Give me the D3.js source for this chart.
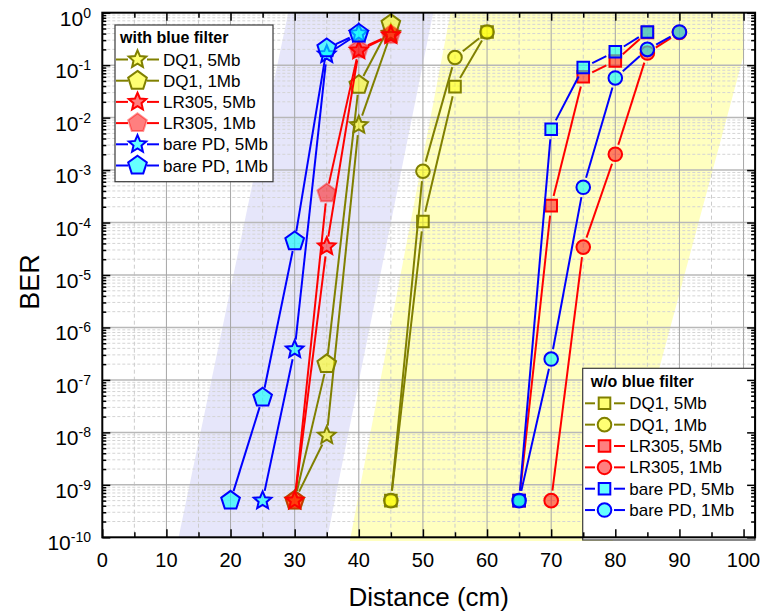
<!DOCTYPE html>
<html><head><meta charset="utf-8">
<script src="https://cdn.jsdelivr.net/npm/d3@7"></script>
<style>
body{margin:0;background:#fff}
svg{display:block}
text{font-family:"Liberation Sans",Arial,Helvetica,sans-serif;fill:#000}
</style>
</head><body>
<svg id="c" width="761" height="615"></svg>
<script>
// ---------------- DATA ----------------
const xTickValues = [0,10,20,30,40,50,60,70,80,90,100];
const yExponents = [0,-1,-2,-3,-4,-5,-6,-7,-8,-9,-10];

// with blue filter
const wfDQ1_5Mb_dist = [30,35,40,45];
const wfDQ1_5Mb_ber  = [5e-10, 8.7e-9, 7.2e-3, 0.40];
const wfDQ1_1Mb_dist = [30,35,40,45];
const wfDQ1_1Mb_ber  = [5e-10, 2.0e-7, 0.042, 0.61];
const wfLR305_5Mb_dist = [30,35,40,45];
const wfLR305_5Mb_ber  = [5e-10, 3.5e-5, 0.19, 0.37];
const wfLR305_1Mb_dist = [30,35,40,45];
const wfLR305_1Mb_ber  = [5e-10, 3.6e-4, 0.20, 0.38];
const wfBare_5Mb_dist = [25,30,35,40];
const wfBare_5Mb_ber  = [5e-10, 3.8e-7, 0.16, 0.40];
const wfBare_1Mb_dist = [20,25,30,35,40];
const wfBare_1Mb_ber  = [5e-10, 4.6e-8, 4.4e-5, 0.21, 0.40];

// without blue filter
const woDQ1_5Mb_dist = [45,50,55,60];
const woDQ1_5Mb_ber  = [5e-10, 1.05e-4, 0.039, 0.43];
const woDQ1_1Mb_dist = [45,50,55,60];
const woDQ1_1Mb_ber  = [5e-10, 9.5e-4, 0.14, 0.43];
const woLR305_5Mb_dist = [65,70,75,80,85];
const woLR305_5Mb_ber  = [5e-10, 2.1e-4, 0.06, 0.12, 0.42];
const woLR305_1Mb_dist = [70,75,80,85,90];
const woLR305_1Mb_ber  = [5e-10, 3.4e-5, 2.0e-3, 0.17, 0.42];
const woBare_5Mb_dist = [65,70,75,80,85];
const woBare_5Mb_ber  = [5e-10, 6.0e-3, 0.09, 0.18, 0.43];
const woBare_1Mb_dist = [65,70,75,80,85,90];
const woBare_1Mb_ber  = [5e-10, 2.5e-7, 4.7e-4, 0.057, 0.20, 0.43];

// shaded bands (distance, BER corners)
const blueBandDist = [11.9, 35.1, 51.6, 29.0];
const blueBandBER  = [1e-10, 1e-10, 1, 1];
const yellowBandDist = [38.6, 79.6, 101.8, 54.3];
const yellowBandBER  = [8.5e-11, 8.5e-11, 1, 1];

const legend1Title = "with blue filter";
const legend2Title = "w/o blue filter";

// ---------------- STYLES ----------------
const st = {
  dq1:  {stroke:"#808000", fill:"#ffff00", fop:0.55, sop:1},
  lr:   {stroke:"#ff0000", fill:"#ff0000", fop:0.5,  sop:1},
  lrP:  {stroke:"#ff0000", fill:"#ff0000", fop:0.5,  sop:0.4},
  bare: {stroke:"#0000ff", fill:"#00ffff", fop:0.6,  sop:1}
};

const groupWith = [
  {name:"DQ1, 5Mb", d:wfDQ1_5Mb_dist, b:wfDQ1_5Mb_ber, shape:"star", s:st.dq1},
  {name:"DQ1, 1Mb", d:wfDQ1_1Mb_dist, b:wfDQ1_1Mb_ber, shape:"pent", s:st.dq1},
  {name:"LR305, 5Mb", d:wfLR305_5Mb_dist, b:wfLR305_5Mb_ber, shape:"star", s:st.lr},
  {name:"LR305, 1Mb", d:wfLR305_1Mb_dist, b:wfLR305_1Mb_ber, shape:"pent", s:st.lrP},
  {name:"bare PD, 5Mb", d:wfBare_5Mb_dist, b:wfBare_5Mb_ber, shape:"star", s:st.bare},
  {name:"bare PD, 1Mb", d:wfBare_1Mb_dist, b:wfBare_1Mb_ber, shape:"pent", s:st.bare}
];
const groupWo = [
  {name:"DQ1, 5Mb", d:woDQ1_5Mb_dist, b:woDQ1_5Mb_ber, shape:"square", s:st.dq1},
  {name:"DQ1, 1Mb", d:woDQ1_1Mb_dist, b:woDQ1_1Mb_ber, shape:"circle", s:st.dq1},
  {name:"LR305, 5Mb", d:woLR305_5Mb_dist, b:woLR305_5Mb_ber, shape:"square", s:st.lr},
  {name:"LR305, 1Mb", d:woLR305_1Mb_dist, b:woLR305_1Mb_ber, shape:"circle", s:st.lr},
  {name:"bare PD, 5Mb", d:woBare_5Mb_dist, b:woBare_5Mb_ber, shape:"square", s:st.bare},
  {name:"bare PD, 1Mb", d:woBare_1Mb_dist, b:woBare_1Mb_ber, shape:"circle", s:st.bare}
];

// ---------------- LAYOUT ----------------
const L = 102.3, R = 755.1, T = 12.7, B = 537.3;
const x = d3.scaleLinear().domain([0, 101.8]).range([L, R]);
const y = d3.scaleLog().domain([1e-10, 1]).range([B, T]);

const svg = d3.select("#c");
svg.append("rect").attr("width",761).attr("height",615).attr("fill","#fff");

const defs = svg.append("defs");
defs.append("clipPath").attr("id","bandclip").append("rect")
  .attr("x", x(0)).attr("y", T).attr("width", x(100)-x(0)).attr("height", 545-T);

// bands
const bandG = svg.append("g").attr("clip-path","url(#bandclip)");
function band(ds, bs, color){
  const pts = ds.map((d,i)=>[x(d), y(bs[i])]);
  bandG.append("path").attr("d", d3.line()(pts)+"Z").attr("fill", color).attr("stroke","none");
}
band(blueBandDist, blueBandBER, "#e6e6fa");
band(yellowBandDist, yellowBandBER, "#ffffc0");

// grid
const gridG = svg.append("g");
const xMinor = d3.range(5, 100, 10);
const xMajorGrid = xTickValues.filter(v => v > 0);
const yMinor = [];
for (let e = -10; e < 0; e++) for (let k = 2; k <= 9; k++) yMinor.push(k * Math.pow(10, e));
const yMajorGrid = yExponents.filter(e => e < 0 && e > -10).map(e => Math.pow(10, e));

gridG.selectAll(".yminor").data(yMinor).join("line")
  .attr("x1", L).attr("x2", R).attr("y1", d=>y(d)).attr("y2", d=>y(d))
  .attr("stroke","#d4d4d4").attr("stroke-width",1).attr("stroke-dasharray","3,2");
gridG.selectAll(".xminor").data(xMinor).join("line")
  .attr("x1", d=>x(d)).attr("x2", d=>x(d)).attr("y1", T).attr("y2", B)
  .attr("stroke","#cccccc").attr("stroke-width",1).attr("stroke-dasharray","4,3");
gridG.selectAll(".ymajor").data(yMajorGrid).join("line")
  .attr("x1", L).attr("x2", R).attr("y1", d=>y(d)).attr("y2", d=>y(d))
  .attr("stroke","#b8b8b8").attr("stroke-width",1.5);
gridG.selectAll(".xmajor").data(xMajorGrid).join("line")
  .attr("x1", d=>x(d)).attr("x2", d=>x(d)).attr("y1", T).attr("y2", B)
  .attr("stroke","#a6a6a6").attr("stroke-width",1);

// marker helpers
function polyPath(n, Ro, Ri){
  const pts = [];
  const m = Ri ? 2*n : n;
  for (let i = 0; i < m; i++){
    const a = -Math.PI/2 + i * 2*Math.PI/m;
    const r = Ri ? (i%2 ? Ri : Ro) : Ro;
    pts.push([r*Math.cos(a), r*Math.sin(a)]);
  }
  return d3.line()(pts) + "Z";
}
const SHAPES = {
  star:   {d: polyPath(5, 9.2, 4.2), gap: 10},
  pent:   {d: polyPath(5, 9.8), gap: 10},
  square: {d: "M-5.8,-5.8H5.8V5.8H-5.8Z", gap: 10},
  circle: {d: d3.arc()({innerRadius:0, outerRadius:6.8, startAngle:0, endAngle:2*Math.PI}), gap: 10}
};
function marker(g, shape, cx, cy, s){
  g.append("path").attr("d", SHAPES[shape].d)
    .attr("transform", `translate(${cx},${cy})`)
    .attr("fill", s.fill).attr("fill-opacity", s.fop)
    .attr("stroke", s.stroke).attr("stroke-opacity", s.sop).attr("stroke-width", 2)
    .attr("stroke-linejoin","miter");
}
function gappedSegment(g, p, q, gap, s){
  const dx = q[0]-p[0], dy = q[1]-p[1];
  const len = Math.hypot(dx, dy);
  if (len <= 2*gap) return;
  const ux = dx/len, uy = dy/len;
  const a = [p[0]+ux*gap, p[1]+uy*gap], b = [q[0]-ux*gap, q[1]-uy*gap];
  g.append("path").attr("d", d3.line()([a,b]))
    .attr("stroke", s.stroke).attr("stroke-width", 2).attr("fill","none");
}

// data
const dataG = svg.append("g");
function drawSeries(ser){
  const g = dataG.append("g");
  const pts = ser.d.map((d,i)=>[x(d), y(ser.b[i])]);
  const gap = SHAPES[ser.shape].gap;
  for (let i = 0; i < pts.length-1; i++) gappedSegment(g, pts[i], pts[i+1], gap, ser.s);
  pts.forEach(p => marker(g, ser.shape, p[0], p[1], ser.s));
}
groupWith.forEach(drawSeries);
groupWo.forEach(drawSeries);

// legends
function legend(box, title, titleX, titleY, rows, rowY0, rowDY, lineX0, lineX1, mx, textX){
  const g = svg.append("g");
  g.append("rect").attr("x", box[0]).attr("y", box[1]).attr("width", box[2]-box[0]).attr("height", box[3]-box[1])
    .attr("fill","#fff").attr("stroke","#3a3a3a").attr("stroke-width",1.2);
  g.append("text").attr("x", titleX).attr("y", titleY).attr("font-size",16).attr("font-weight","bold").text(title);
  rows.forEach((ser,i)=>{
    const cy = rowY0 + i*rowDY;
    g.append("line").attr("x1", lineX0).attr("x2", mx-9.5).attr("y1", cy).attr("y2", cy)
      .attr("stroke", ser.s.stroke).attr("stroke-width",2);
    g.append("line").attr("x1", mx+9.5).attr("x2", lineX1).attr("y1", cy).attr("y2", cy)
      .attr("stroke", ser.s.stroke).attr("stroke-width",2);
    marker(g, ser.shape, mx, cy, ser.s);
    g.append("text").attr("x", textX).attr("y", cy+6).attr("font-size",17).text(ser.name);
  });
}
legend([115,25,273,181.7], legend1Title, 120, 42.7, groupWith, 59.5, 21.2, 116, 159, 137.5, 163);
legend([582.7,368.3,755,540], legend2Title, 590.7, 386.7, groupWo, 403.3, 21.35, 585, 625, 604.5, 629.3);

// axes (ticks through d3 axes, inward)
const axG = svg.append("g");
const yMajorVals = yExponents.map(e => Math.pow(10, e));
function noDomain(sel){ sel.select(".domain").remove(); sel.selectAll("text").remove(); sel.selectAll("line").attr("stroke","#000").attr("stroke-width",1.5); }
axG.append("g").attr("transform",`translate(0,${B})`).call(d3.axisBottom(x).tickValues(xTickValues).tickSize(-8).tickFormat("")).call(noDomain);
axG.append("g").attr("transform",`translate(0,${B})`).call(d3.axisBottom(x).tickValues(xMinor).tickSize(-5).tickFormat("")).call(noDomain);
axG.append("g").attr("transform",`translate(0,${T})`).call(d3.axisTop(x).tickValues(xTickValues).tickSize(-8).tickFormat("")).call(noDomain);
axG.append("g").attr("transform",`translate(0,${T})`).call(d3.axisTop(x).tickValues(xMinor).tickSize(-5).tickFormat("")).call(noDomain);
axG.append("g").attr("transform",`translate(${L},0)`).call(d3.axisLeft(y).tickValues(yMajorVals).tickSize(-8).tickFormat("")).call(noDomain);
axG.append("g").attr("transform",`translate(${L},0)`).call(d3.axisLeft(y).tickValues(yMinor).tickSize(-4).tickFormat("")).call(noDomain);
axG.append("g").attr("transform",`translate(${R},0)`).call(d3.axisRight(y).tickValues(yMajorVals).tickSize(-8).tickFormat("")).call(noDomain);
axG.append("g").attr("transform",`translate(${R},0)`).call(d3.axisRight(y).tickValues(yMinor).tickSize(-4).tickFormat("")).call(noDomain);

// frame
axG.append("rect").attr("x", L).attr("y", T).attr("width", R-L).attr("height", B-T)
  .attr("fill","none").attr("stroke","#000").attr("stroke-width",2);

// tick labels
const labG = svg.append("g");
labG.selectAll(".xl").data(xTickValues).join("text")
  .attr("x", d=>x(d)).attr("y", B+30).attr("text-anchor","middle").attr("font-size",20).text(d=>d);
yExponents.forEach(e=>{
  const t = labG.append("text").attr("x", 91).attr("y", y(Math.pow(10,e))+13).attr("text-anchor","end").attr("font-size",21);
  t.append("tspan").text("10");
  t.append("tspan").attr("dy",-8).attr("font-size",14).text(e===0 ? "0" : "-" + Math.abs(e));
});

// axis titles
svg.append("text").attr("x", (L+R)/2).attr("y", 606).attr("text-anchor","middle").attr("font-size",26).text("Distance (cm)");
svg.append("text").attr("transform",`translate(39,282) rotate(-90)`).attr("text-anchor","middle").attr("font-size",27).text("BER");
</script>
</body></html>
